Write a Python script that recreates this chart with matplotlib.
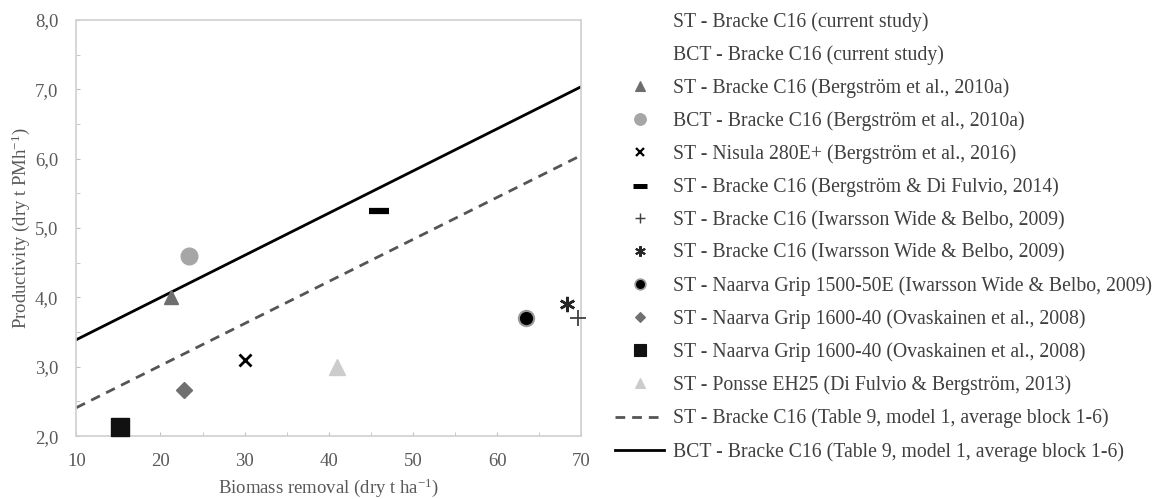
import numpy as np
import matplotlib
matplotlib.use("Agg")
import matplotlib.pyplot as plt
from matplotlib.lines import Line2D
from matplotlib.ticker import FuncFormatter, MultipleLocator

plt.rcParams['font.family'] = ['Liberation Serif', 'DejaVu Serif']
plt.rcParams['mathtext.fontset'] = 'custom'
plt.rcParams['mathtext.rm'] = 'Liberation Serif'
plt.rcParams['mathtext.it'] = 'Liberation Serif:italic'

# point data (biomass removal, productivity)
pt_labels = [
    "ST - Bracke C16 (Bergström et al., 2010a)",
    "BCT - Bracke C16 (Bergström et al., 2010a)",
    "ST - Nisula 280E+ (Bergström et al., 2016)",
    "ST - Bracke C16 (Bergström & Di Fulvio, 2014)",
    "ST - Bracke C16 (Iwarsson Wide & Belbo, 2009)",
    "ST - Bracke C16 (Iwarsson Wide & Belbo, 2009)",
    "ST - Naarva Grip 1500-50E (Iwarsson Wide & Belbo, 2009)",
    "ST - Naarva Grip 1600-40 (Ovaskainen et al., 2008)",
    "ST - Naarva Grip 1600-40 (Ovaskainen et al., 2008)",
    "ST - Ponsse EH25 (Di Fulvio & Bergström, 2013)",
]
pt_x = [21.3, 23.4, 30.0, 46.0, 69.6, 68.3, 63.4, 22.8, 15.2, 41.0]
pt_y = [4.0, 4.6, 3.1, 5.25, 3.7, 3.9, 3.7, 2.66, 2.13, 3.0]

# model lines
line_x = [10, 70]
st_model = [2.41, 6.05]
bct_model = [3.39, 7.04]
st_model_label = "ST - Bracke C16 (Table 9, model 1, average block 1-6)"
bct_model_label = "BCT - Bracke C16 (Table 9, model 1, average block 1-6)"
current_labels = ["ST - Bracke C16 (current study)", "BCT - Bracke C16 (current study)"]

# marker styles: marker, size, face, edge, edge width
styles = [
    ('^', 10, '#6e6e6e', '#6e6e6e', 1),
    ('o', 12, '#a6a6a6', '#a6a6a6', 1),
    ('x', 9, 'black', 'black', 2),
    ('_', 15, 'black', 'black', 4.5),
    ('+', 11, '#404040', '#404040', 1.3),
    ((6, 2, 0), 11, '#262626', '#262626', 1.8),
    ('o', 11, 'black', '#9a9a9a', 1.5),
    ('D', 8, '#707070', '#707070', 1),
    ('s', 13, '#111111', '#111111', 1),
    ('^', 11, '#cccccc', '#cccccc', 1),
]

fig = plt.figure(figsize=(11.56, 4.99), dpi=100)
ax = fig.add_axes([0.066, 0.126, 0.437, 0.834])

ax.plot(line_x, st_model, color='#555555', lw=2, ls=(0, (3.5, 2.5)))
ax.plot(line_x, bct_model, color='black', lw=2)

handles = []
for x, y, (m, s, fc, ec, ew) in zip(pt_x, pt_y, styles):
    ax.plot([x], [y], linestyle='none', marker=m, markersize=s,
            markerfacecolor=fc, markeredgecolor=ec, markeredgewidth=ew,
            clip_on=False, zorder=3)
    handles.append(Line2D([], [], linestyle='none', marker=m, markersize=s * 0.7,
                          markerfacecolor=fc, markeredgecolor=ec,
                          markeredgewidth=ew * 0.8))

ax.set_xlim(10, 70)
ax.set_ylim(2, 8)
ax.xaxis.set_major_locator(MultipleLocator(10))
ax.xaxis.set_minor_locator(MultipleLocator(5))
ax.yaxis.set_major_locator(MultipleLocator(1))
ax.yaxis.set_minor_locator(MultipleLocator(0.5))
ax.yaxis.set_major_formatter(FuncFormatter(lambda v, p: f"{v:.1f}".replace('.', ',')))
ax.tick_params(which='both', direction='in', length=3, color='#bfbfbf',
               labelcolor='#595959', labelsize=13.5)
ax.tick_params(axis='x', pad=12)
ax.tick_params(axis='y', pad=13)
for sp in ax.spines.values():
    sp.set_color('#d0d0d0')
    sp.set_linewidth(1.2)

ax.set_xlabel("Biomass removal (dry t ha$^{\\mathregular{-1}}$)", color='#595959', fontsize=13.5, labelpad=5)
ax.set_ylabel("Productivity (dry t PMh$^{\\mathregular{-1}}$)", color='#595959', fontsize=13.5, labelpad=2)

empty = [Line2D([], [], linestyle='none') for _ in current_labels]
all_handles = empty + handles + [
    Line2D([], [], color='#555555', lw=2, ls=(0, (3.5, 2.5))),
    Line2D([], [], color='black', lw=2),
]
all_labels = current_labels + pt_labels + [st_model_label, bct_model_label]

leg = fig.legend(all_handles, all_labels, loc='upper left',
                 bbox_to_anchor=(0.532, 0.976), frameon=False, fontsize=14.2,
                 handlelength=2.5, handletextpad=0.45, labelspacing=0.68,
                 borderpad=0, borderaxespad=0)
for t in leg.get_texts():
    t.set_color('#404040')

fig.savefig("out.png", dpi=100)
